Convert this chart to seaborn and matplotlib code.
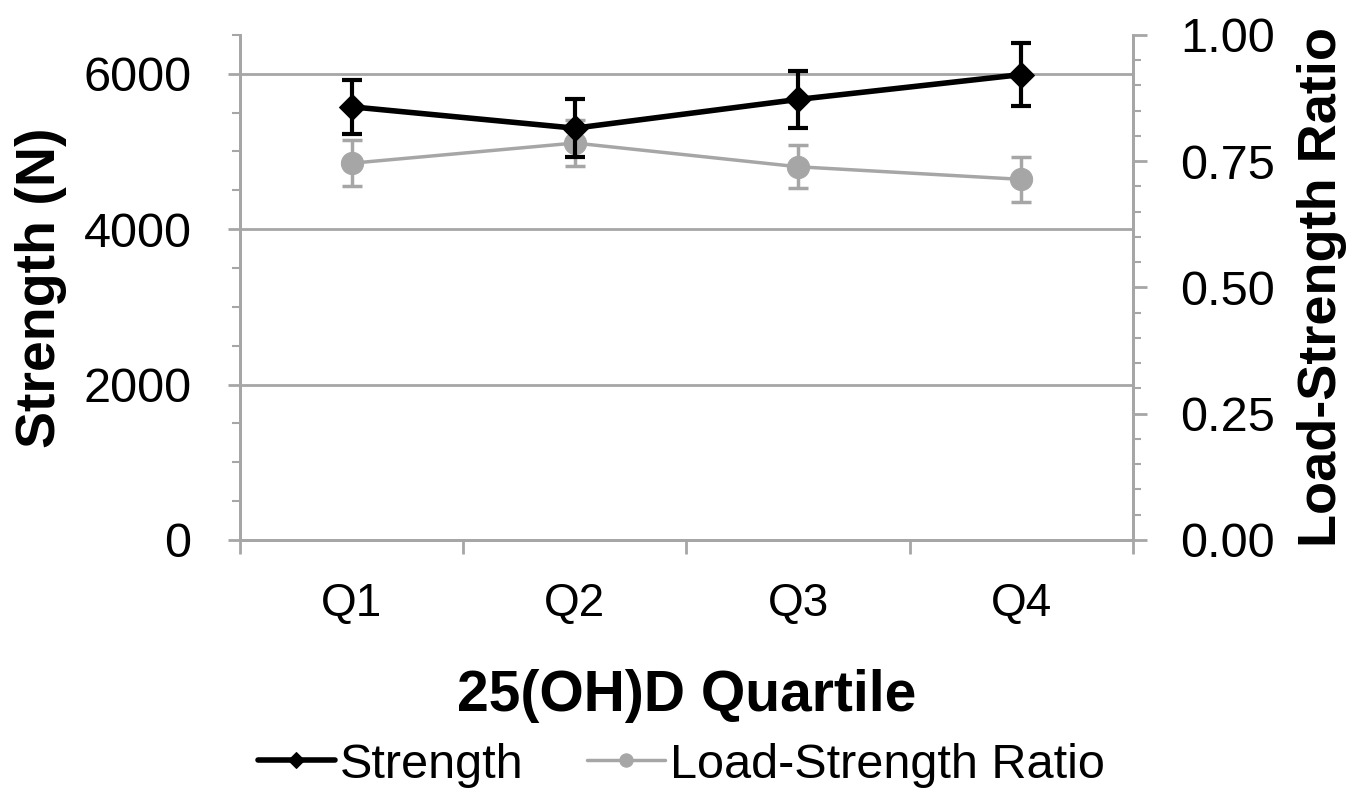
import numpy as np
import pandas as pd
import matplotlib
matplotlib.use("Agg")
import matplotlib.pyplot as plt
import seaborn as sns
from matplotlib.ticker import MultipleLocator

# data
quartiles = ["Q1", "Q2", "Q3", "Q4"]
strength = [5575, 5300, 5670, 5990]
strength_err = [350, 370, 367, 400]
ratio = [0.746, 0.786, 0.739, 0.714]
ratio_err = [0.046, 0.046, 0.043, 0.045]

df = pd.DataFrame({"quartile": quartiles, "pos": np.arange(len(quartiles)),
                   "strength": strength, "ratio": ratio})

sns.set_style("white")
plt.rcParams["font.family"] = ["Liberation Sans", "DejaVu Sans"]
plt.rcParams.update({"text.color": "black", "axes.labelcolor": "black",
                     "xtick.labelcolor": "black", "ytick.labelcolor": "black"})

grid_c = "#a6a6a6"
ratio_c = "#a6a6a6"

fig = plt.figure(figsize=(13.66, 7.94), dpi=100)
ax = fig.add_axes([0.1757, 0.3199, 0.8294 - 0.1757, 0.956 - 0.3199])
ax2 = ax.twinx()

# strength series (left axis)
sns.lineplot(data=df, x="pos", y="strength", ax=ax, color="black", lw=4,
             marker="D", markersize=13, markeredgecolor="black", label="Strength",
             legend=False, zorder=5)
ax.errorbar(df["pos"], df["strength"], yerr=strength_err, fmt="none", ecolor="black",
            elinewidth=3, capsize=7.5, capthick=3, zorder=5)

# ratio series (right axis)
sns.lineplot(data=df, x="pos", y="ratio", ax=ax2, color=ratio_c, lw=2.5,
             marker="o", markersize=16, markeredgecolor=ratio_c, label="Load-Strength Ratio",
             legend=False, zorder=4)
ax2.errorbar(df["pos"], df["ratio"], yerr=ratio_err, fmt="none", ecolor=ratio_c,
             elinewidth=2.5, capsize=7.5, capthick=2.5, zorder=4)

ax.set_zorder(ax2.get_zorder() + 1)
ax.patch.set_visible(False)

ax.set_xlim(-0.5, 3.5)
ax.set_ylim(0, 6500)
ax2.set_ylim(0, 1.0)

ax.set_xticks(df["pos"])
ax.set_xticklabels(quartiles)
ax.set_xticks(np.arange(-0.5, 4.0, 1.0), minor=True)
ax.set_yticks([0, 2000, 4000, 6000])
ax.yaxis.set_minor_locator(MultipleLocator(500))
ax2.set_yticks([0, 0.25, 0.5, 0.75, 1.0])
ax2.set_yticklabels(["0.00", "0.25", "0.50", "0.75", "1.00"])
ax2.yaxis.set_minor_locator(MultipleLocator(0.05))

for a in (ax, ax2):
    for s in a.spines.values():
        s.set_color(grid_c)
        s.set_linewidth(2)
    a.spines["top"].set_visible(False)

ax.grid(axis="y", color=grid_c, lw=2)
ax.tick_params(axis="y", which="major", direction="out", length=9, width=2,
               color=grid_c, labelsize=35, pad=26, left=True)
ax.tick_params(axis="y", which="minor", direction="out", length=6, width=1.5,
               color=grid_c, left=True)
ax.tick_params(axis="x", which="major", length=0, labelsize=33, pad=30)
ax.tick_params(axis="x", which="minor", direction="out", length=10, width=2,
               color=grid_c, bottom=True)
ax2.tick_params(axis="y", which="major", direction="out", length=10, width=2,
                color=grid_c, labelsize=35, pad=24, right=True)
ax2.tick_params(axis="y", which="minor", direction="out", length=6, width=1.5,
                color=grid_c, right=True)

ax.set_xlabel("25(OH)D Quartile", fontsize=41, fontweight="bold", labelpad=31)
ax.set_ylabel("Strength (N)", fontsize=40, fontweight="bold", labelpad=12)
ax2.set_ylabel("Load-Strength Ratio", fontsize=39, fontweight="bold", labelpad=16)

h1, l1 = ax.get_legend_handles_labels()
h2, l2 = ax2.get_legend_handles_labels()
fig.legend(h1 + h2, l1 + l2, loc="center", bbox_to_anchor=(681 / 1366, 1 - 765 / 794),
           ncol=2, frameon=False, fontsize=35, handlelength=1.6, handletextpad=0.1,
           columnspacing=1.3, markerscale=0.6, borderpad=0, borderaxespad=0)

fig.savefig("out.png", dpi=100)
